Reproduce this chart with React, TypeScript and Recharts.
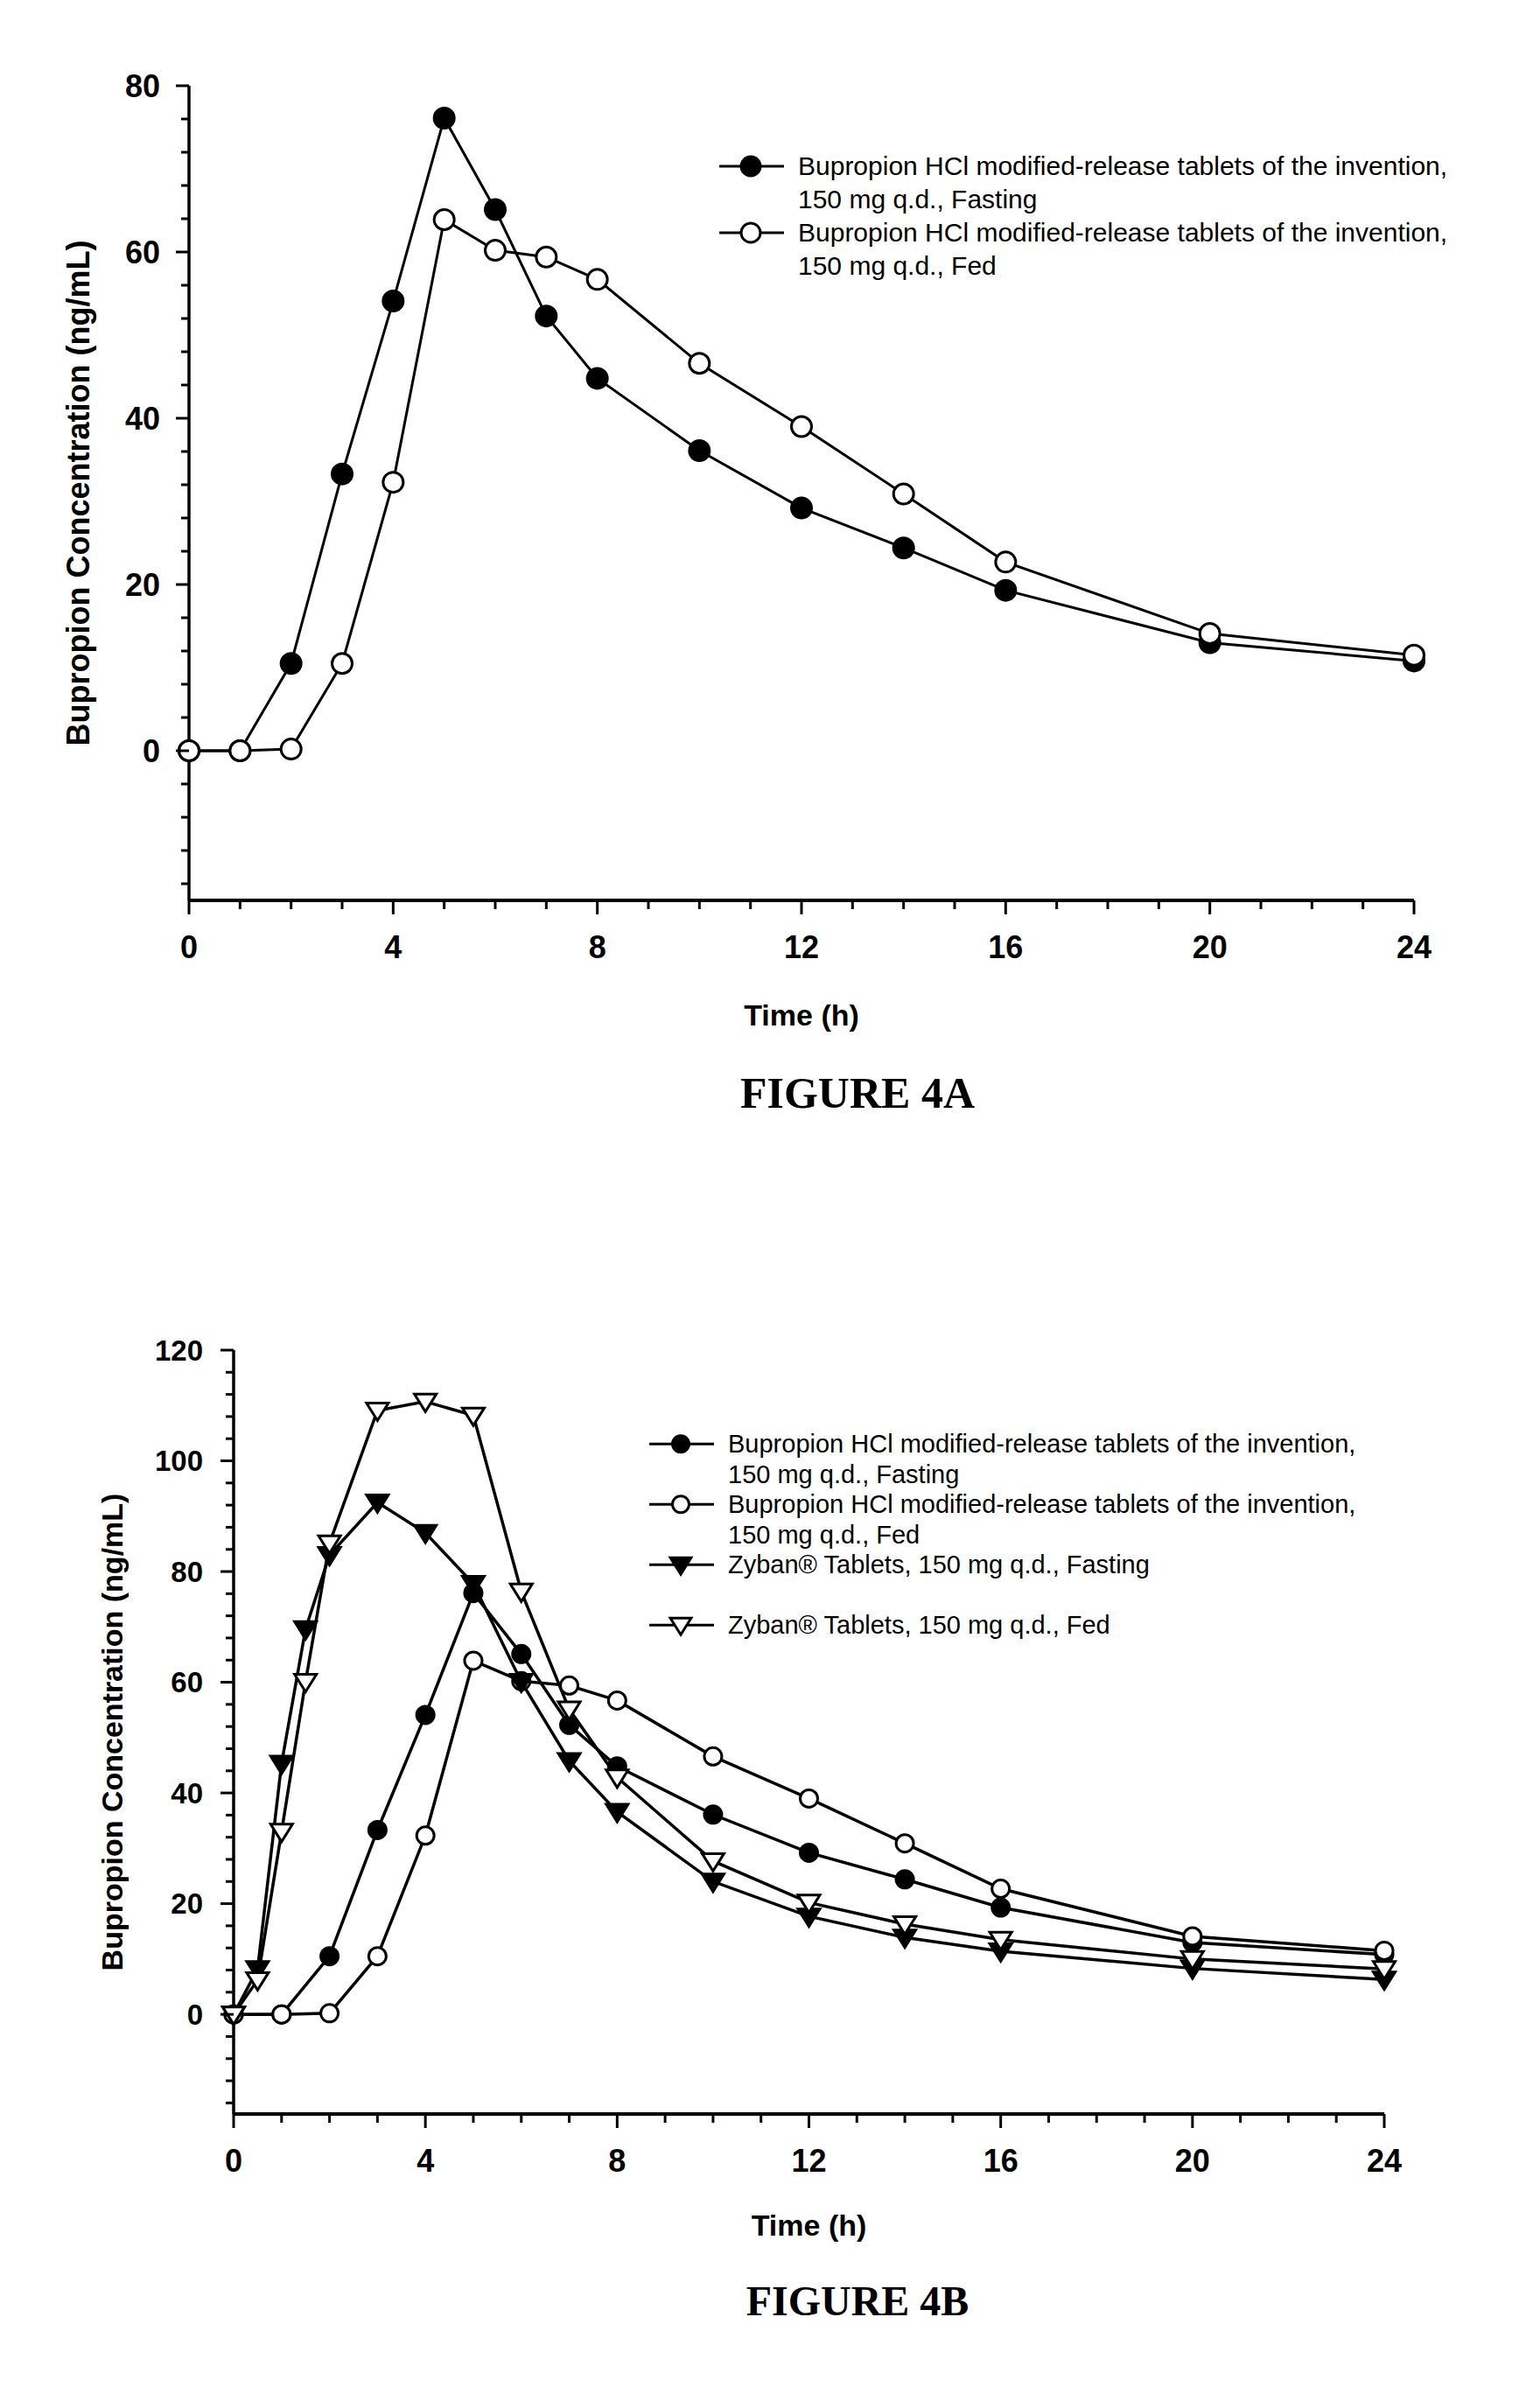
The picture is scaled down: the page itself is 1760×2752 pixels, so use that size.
import React from "react";
import { LineChart, Line, XAxis, YAxis, Legend } from "recharts";

// sampling times (h)
const TIMES = [0, 1, 2, 3, 4, 5, 6, 7, 8, 10, 12, 14, 16, 20, 24];
const TIMES_ZYBAN = [0, 0.5, 1, 1.5, 2, 3, 4, 5, 6, 7, 8, 10, 12, 14, 16, 20, 24];

// mean bupropion concentration (ng/mL)
const MR_FASTING = [0, 0, 10.5, 33.3, 54.1, 76.1, 65.1, 52.3, 44.8, 36.1, 29.2, 24.4, 19.3, 13.0, 10.8];
const MR_FED = [0, 0, 0.2, 10.5, 32.3, 63.9, 60.2, 59.4, 56.7, 46.6, 39.0, 30.9, 22.7, 14.1, 11.5];
const ZYBAN_FASTING = [0, 8.2, 45.3, 69.6, 83.0, 92.5, 87.0, 77.8, 60.1, 45.8, 36.6, 24.0, 17.7, 13.9, 11.4, 8.3, 6.3];
const ZYBAN_FED = [0, 6.2, 33.0, 60.1, 85.1, 109.1, 110.7, 108.2, 76.4, 55.1, 42.8, 27.7, 20.2, 16.3, 13.5, 10.0, 8.2];

const X_TICKS = Array.from({ length: 25 }, (_, i) => i);
const Y_TICKS_A = [-16, -12, -8, -4, 0, 4, 8, 12, 16, 20, 24, 28, 32, 36, 40, 44, 48, 52, 56, 60, 64, 68, 72, 76, 80];
const Y_TICKS_B = [-16, -12, -8, -4, 0, 4, 8, 12, 16, 20, 24, 28, 32, 36, 40, 44, 48, 52, 56, 60, 64, 68, 72, 76, 80, 84, 88, 92, 96, 100, 104, 108, 112, 116, 120];

const LEGEND_A = [
  ["Bupropion HCl modified-release tablets of the invention,", "150 mg q.d., Fasting"],
  ["Bupropion HCl modified-release tablets of the invention,", "150 mg q.d., Fed"],
];
const LEGEND_B = [
  ["Bupropion HCl modified-release tablets of the invention,", "150 mg q.d., Fasting"],
  ["Bupropion HCl modified-release tablets of the invention,", "150 mg q.d., Fed"],
  ["Zyban\u00AE Tablets, 150 mg q.d., Fasting", ""],
  ["Zyban\u00AE Tablets, 150 mg q.d., Fed"],
];

const SANS = "'Liberation Sans', Arial, sans-serif";
const SERIF = "'Liberation Serif', 'Times New Roman', serif";

type Kind = "circle" | "openCircle" | "tri" | "openTri";

function Marker({ kind, cx, cy, r, sw }: { kind: Kind; cx: number; cy: number; r: number; sw: number }) {
  const fill = kind === "circle" || kind === "tri" ? "#000" : "#fff";
  if (kind === "circle" || kind === "openCircle") {
    return <circle cx={cx} cy={cy} r={r} fill={fill} stroke="#000" strokeWidth={sw} />;
  }
  const w = r * 1.25;
  const pts = `${cx - w},${cy - r * 0.85} ${cx + w},${cy - r * 0.85} ${cx},${cy + r * 1.15}`;
  return <polygon points={pts} fill={fill} stroke="#000" strokeWidth={sw} strokeLinejoin="miter" />;
}

const dotFor = (kind: Kind, r: number, sw: number) => (props: any) => {
  const { cx, cy, key, index } = props;
  if (cx == null || cy == null) return <g key={key ?? index} />;
  return <Marker key={key ?? `${kind}-${index}`} kind={kind} cx={cx} cy={cy} r={r} sw={sw} />;
};

function YTick(props: any) {
  const { x, y, payload, fontSize, gap } = props;
  const major = payload.value % 20 === 0;
  return (
    <g>
      <line x1={x} x2={x - (major ? 15 : 9)} y1={y} y2={y} stroke="#000" strokeWidth={3} />
      {major && (
        <text x={x - gap} y={y} textAnchor="end" dominantBaseline="central"
          fontFamily={SANS} fontWeight="bold" fontSize={fontSize} fill="#000">
          {payload.value}
        </text>
      )}
    </g>
  );
}

function XTick(props: any) {
  const { x, y, payload, fontSize } = props;
  const major = payload.value % 4 === 0;
  return (
    <g>
      <line x1={x} x2={x} y1={y} y2={y + (major ? 16 : 10)} stroke="#000" strokeWidth={3} />
      {major && (
        <text x={x} y={y + 53} textAnchor="middle" dominantBaseline="central"
          fontFamily={SANS} fontWeight="bold" fontSize={fontSize} fill="#000">
          {payload.value}
        </text>
      )}
    </g>
  );
}

function YTitle(props: any) {
  const { viewBox, cx, fontSize } = props;
  const cy = viewBox.y + viewBox.height / 2;
  return (
    <text x={cx} y={cy} transform={`rotate(-90 ${cx} ${cy})`} textAnchor="middle" dominantBaseline="central"
      fontFamily={SANS} fontWeight="bold" fontSize={fontSize} fill="#000">
      Bupropion Concentration (ng/mL)
    </text>
  );
}

function XTitle(props: any) {
  const { viewBox, dy, fontSize } = props;
  const cx = viewBox.x + viewBox.width / 2;
  return (
    <text x={cx} y={viewBox.y + dy} textAnchor="middle" dominantBaseline="central"
      fontFamily={SANS} fontWeight="bold" fontSize={fontSize} fill="#000">
      Time (h)
    </text>
  );
}

function LegendBox({ rows, kinds, fontSize, lineHeight, r, sw }: any) {
  return (
    <div style={{ fontFamily: SANS, fontSize, lineHeight: `${lineHeight}px`, color: "#000", whiteSpace: "nowrap" }}>
      {rows.map((lines: string[], i: number) => (
        <div key={i} style={{ display: "flex", alignItems: "flex-start" }}>
          <svg width={84} height={lineHeight} style={{ flex: "none" }}>
            <line x1={2} x2={76} y1={lineHeight / 2} y2={lineHeight / 2} stroke="#000" strokeWidth={sw} />
            <Marker kind={kinds[i]} cx={38} cy={lineHeight / 2} r={r} sw={sw} />
          </svg>
          <div style={{ paddingLeft: 8 }}>
            {lines.map((t, j) => (
              <div key={j} style={{ height: lineHeight }}>{t}</div>
            ))}
          </div>
        </div>
      ))}
    </div>
  );
}

const pts = (ts: number[], vs: number[]) => ts.map((t, i) => ({ t, v: vs[i] }));

function FigureA() {
  return (
    <LineChart width={1760} height={1300} margin={{ top: 98, right: 144, left: 0, bottom: 0 }}>
      <XAxis dataKey="t" type="number" domain={[0, 24]} ticks={X_TICKS} interval={0}
        height={271} tickSize={0} tickMargin={0} tickLine={false}
        axisLine={{ stroke: "#000", strokeWidth: 4 }} tick={<XTick fontSize={36} />}
        label={<XTitle dy={131} fontSize={34} />} />
      <YAxis type="number" domain={[-18, 80]} ticks={Y_TICKS_A} interval={0} width={216}
        tickSize={0} tickMargin={0} tickLine={false} allowDataOverflow
        axisLine={{ stroke: "#000", strokeWidth: 3.5 }} tick={<YTick fontSize={36} gap={33} />}
        label={<YTitle cx={89} fontSize={36} />} />
      <Legend layout="vertical" align="center" verticalAlign="middle"
        wrapperStyle={{ position: "absolute", left: 820, top: 171, width: "auto" }}
        content={() => <LegendBox rows={LEGEND_A} kinds={["circle", "openCircle"]} fontSize={30} lineHeight={38} r={11} sw={3} />} />
      <Line data={pts(TIMES, MR_FASTING)} dataKey="v" type="linear" stroke="#000" strokeWidth={3}
        dot={dotFor("circle", 11.5, 3)} activeDot={false} isAnimationActive={false} />
      <Line data={pts(TIMES, MR_FED)} dataKey="v" type="linear" stroke="#000" strokeWidth={3}
        dot={dotFor("openCircle", 11.5, 3)} activeDot={false} isAnimationActive={false} />
    </LineChart>
  );
}

function FigureB() {
  return (
    <LineChart width={1760} height={1452} margin={{ top: 243, right: 178, left: 0, bottom: 0 }}>
      <XAxis dataKey="t" type="number" domain={[0, 24]} ticks={X_TICKS} interval={0}
        height={336} tickSize={0} tickMargin={0} tickLine={false}
        axisLine={{ stroke: "#000", strokeWidth: 4 }} tick={<XTick fontSize={36} />}
        label={<XTitle dy={127} fontSize={34} />} />
      <YAxis type="number" domain={[-18, 120]} ticks={Y_TICKS_B} interval={0} width={267}
        tickSize={0} tickMargin={0} tickLine={false} allowDataOverflow
        axisLine={{ stroke: "#000", strokeWidth: 3.5 }} tick={<YTick fontSize={33} gap={35} />}
        label={<YTitle cx={128} fontSize={34} />} />
      <Legend layout="vertical" align="center" verticalAlign="middle"
        wrapperStyle={{ position: "absolute", left: 740, top: 333, width: "auto" }}
        content={() => <LegendBox rows={LEGEND_B} kinds={["circle", "openCircle", "tri", "openTri"]} fontSize={29} lineHeight={34.5} r={9.5} sw={3} />} />
      <Line data={pts(TIMES, MR_FASTING)} dataKey="v" type="linear" stroke="#000" strokeWidth={3.5}
        dot={dotFor("circle", 10, 3)} activeDot={false} isAnimationActive={false} />
      <Line data={pts(TIMES, MR_FED)} dataKey="v" type="linear" stroke="#000" strokeWidth={3.5}
        dot={dotFor("openCircle", 10, 3)} activeDot={false} isAnimationActive={false} />
      <Line data={pts(TIMES_ZYBAN, ZYBAN_FASTING)} dataKey="v" type="linear" stroke="#000" strokeWidth={3.5}
        dot={dotFor("tri", 10, 3)} activeDot={false} isAnimationActive={false} />
      <Line data={pts(TIMES_ZYBAN, ZYBAN_FED)} dataKey="v" type="linear" stroke="#000" strokeWidth={3.5}
        dot={dotFor("openTri", 10, 3)} activeDot={false} isAnimationActive={false} />
    </LineChart>
  );
}

const caption = (top: number, size: number): React.CSSProperties => ({
  position: "absolute", left: 680, width: 600, top, textAlign: "center",
  fontFamily: SERIF, fontWeight: "bold", fontSize: size, lineHeight: "60px", color: "#000",
});

export default function App() {
  return (
    <div style={{ position: "absolute", left: 0, top: 0, width: 1760, height: 2752, background: "#fff", overflow: "hidden" }}>
      <div style={{ position: "absolute", left: 0, top: 0 }}>
        <FigureA />
      </div>
      <div style={{ position: "absolute", left: 0, top: 1300 }}>
        <FigureB />
      </div>
      <div style={caption(1219, 50)}>FIGURE 4A</div>
      <div style={caption(2600, 48)}>FIGURE 4B</div>
    </div>
  );
}
